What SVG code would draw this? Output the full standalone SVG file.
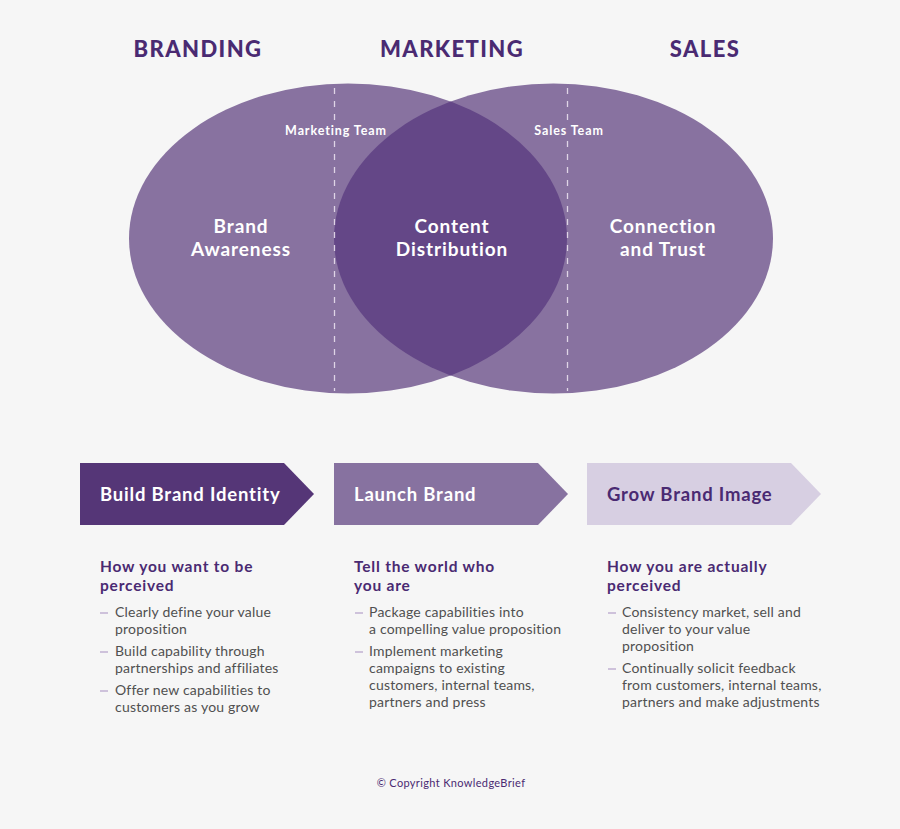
<svg xmlns="http://www.w3.org/2000/svg" width="900" height="829" viewBox="0 0 900 829">
<style>
.h{font-family:Lato,"Open Sans",sans-serif;font-weight:900;font-size:22px;letter-spacing:1.4px;fill:#4a2a72;text-anchor:middle}
.el{font-family:Lato,"Open Sans",sans-serif;font-weight:700;font-size:19px;letter-spacing:0.9px;fill:#fff;text-anchor:middle}
.team{font-family:Lato,"Open Sans",sans-serif;font-weight:700;font-size:12.5px;letter-spacing:0.9px;fill:#fff;text-anchor:middle}
.ch{font-family:Lato,"Open Sans",sans-serif;font-weight:700;font-size:18.5px;letter-spacing:0.8px}
.sub{font-family:Lato,"Open Sans",sans-serif;font-weight:700;font-size:15.5px;letter-spacing:0.8px;fill:#4a2a72}
.b{font-family:Lato,"Open Sans",sans-serif;font-size:14px;letter-spacing:0.2px;fill:#505050}
.dash{stroke:#b9a6cc;stroke-width:1.3}
.dl{stroke:#efe6f3;stroke-width:1.3;stroke-dasharray:6 7;opacity:0.85}
.copy{font-family:Lato,"Open Sans",sans-serif;font-size:11px;letter-spacing:0.35px;fill:#4a2a72;text-anchor:middle}
</style>
<defs>
<clipPath id="clipL"><ellipse cx="348" cy="238.5" rx="219" ry="155"/></clipPath>
</defs>
<rect width="900" height="829" fill="#f6f6f6"/>
<g id="headings">
<text class="h" x="198" y="57">BRANDING</text>
<text class="h" x="452" y="57">MARKETING</text>
<text class="h" x="705" y="57">SALES</text>
</g>
<g id="venn-branding">
<ellipse cx="348" cy="238.5" rx="219" ry="155" fill="#8872a0"/>
</g>
<g id="venn-sales">
<ellipse cx="553.5" cy="238.5" rx="219.5" ry="155" fill="#8872a0"/>
</g>
<g id="venn-overlap">
<ellipse cx="553.5" cy="238.5" rx="219.5" ry="155" fill="#644787" clip-path="url(#clipL)"/>
</g>
<g id="connectors">
<line class="dl" x1="334.5" y1="88" x2="334.5" y2="122"/>
<line class="dl" x1="334.5" y1="141" x2="334.5" y2="391"/>
<line class="dl" x1="567.5" y1="88" x2="567.5" y2="122"/>
<line class="dl" x1="567.5" y1="141" x2="567.5" y2="391"/>
</g>
<g id="labels">
<text class="team" x="336" y="135">Marketing Team</text>
<text class="team" x="569" y="135">Sales Team</text>
<text class="el" x="241" y="233">Brand</text>
<text class="el" x="241" y="256">Awareness</text>
<text class="el" x="452" y="233">Content</text>
<text class="el" x="452" y="256">Distribution</text>
<text class="el" x="663" y="233">Connection</text>
<text class="el" x="663" y="256">and Trust</text>
</g>
<g id="step1">
<polygon points="80,463 284,463 314,494 284,525 80,525" fill="#553677"/>
<text class="ch" x="100" y="501" fill="#fff">Build Brand Identity</text>
</g>
<g id="step2">
<polygon points="334,463 538,463 568,494 538,525 334,525" fill="#8772a0"/>
<text class="ch" x="354" y="501" fill="#fff">Launch Brand</text>
</g>
<g id="step3">
<polygon points="587,463 791,463 821,494 791,525 587,525" fill="#d7cfe2"/>
<text class="ch" x="607" y="501" fill="#4a2a72">Grow Brand Image</text>
</g>
<g id="col1">
<text class="sub" x="100" y="572">How you want to be</text>
<text class="sub" x="100" y="591">perceived</text>
<line class="dash" x1="100" y1="613" x2="108" y2="613"/>
<text class="b" x="115" y="617">Clearly define your value</text>
<text class="b" x="115" y="634">proposition</text>
<line class="dash" x1="100" y1="652" x2="108" y2="652"/>
<text class="b" x="115" y="656">Build capability through</text>
<text class="b" x="115" y="673">partnerships and affiliates</text>
<line class="dash" x1="100" y1="691" x2="108" y2="691"/>
<text class="b" x="115" y="695">Offer new capabilities to</text>
<text class="b" x="115" y="712">customers as you grow</text>
</g>
<g id="col2">
<text class="sub" x="354" y="572">Tell the world who</text>
<text class="sub" x="354" y="591">you are</text>
<line class="dash" x1="355" y1="613" x2="363" y2="613"/>
<text class="b" x="369" y="617">Package capabilities into</text>
<text class="b" x="369" y="634">a compelling value proposition</text>
<line class="dash" x1="355" y1="652" x2="363" y2="652"/>
<text class="b" x="369" y="656">Implement marketing</text>
<text class="b" x="369" y="673">campaigns to existing</text>
<text class="b" x="369" y="690">customers, internal teams,</text>
<text class="b" x="369" y="707">partners and press</text>
</g>
<g id="col3">
<text class="sub" x="607" y="572">How you are actually</text>
<text class="sub" x="607" y="591">perceived</text>
<line class="dash" x1="608" y1="613" x2="616" y2="613"/>
<text class="b" x="622" y="617">Consistency market, sell and</text>
<text class="b" x="622" y="634">deliver to your value</text>
<text class="b" x="622" y="651">proposition</text>
<line class="dash" x1="608" y1="669" x2="616" y2="669"/>
<text class="b" x="622" y="673">Continually solicit feedback</text>
<text class="b" x="622" y="690">from customers, internal teams,</text>
<text class="b" x="622" y="707">partners and make adjustments</text>
</g>
<g id="footer">
<text class="copy" x="451" y="787">© Copyright KnowledgeBrief</text>
</g>
</svg>
